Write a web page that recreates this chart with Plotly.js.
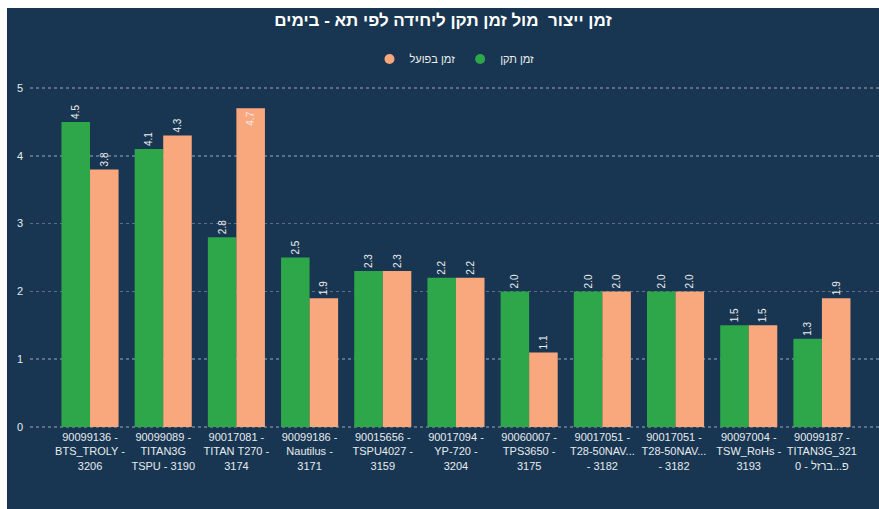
<!DOCTYPE html>
<html>
<head>
<meta charset="utf-8">
<script src="https://cdn.plot.ly/plotly-3.0.1.min.js"></script>
<style>
html,body{margin:0;padding:0;background:#ffffff;width:879px;height:509px;overflow:hidden;}
#chart{position:absolute;left:7px;top:8px;width:872px;height:501px;}
</style>
</head>
<body>
<div id="chart"></div>
<script>
const categories = [
  "90099136 -<br>BTS_TROLY -<br>3206",
  "90099089 -<br>TITAN3G<br>TSPU - 3190",
  "90017081 -<br>TITAN T270 -<br>3174",
  "90099186 -<br>Nautilus -<br>3171",
  "90015656 -<br>TSPU4027 -<br>3159",
  "90017094 -<br>YP-720 -<br>3204",
  "90060007 -<br>TPS3650 -<br>3175",
  "90017051 -<br>T28-50NAV...<br>- 3182",
  "90017051 - <br>T28-50NAV... <br>- 3182 ",
  "90097004 -<br>TSW_RoHs -<br>3193",
  "90099187 -<br>TITAN3G_321<br>\u200E0 - פ...ברזל"
];
const standardTime = [4.5, 4.1, 2.8, 2.5, 2.3, 2.2, 2.0, 2.0, 2.0, 1.5, 1.3];
const actualTime   = [3.8, 4.3, 4.7, 1.9, 2.3, 2.2, 1.1, 2.0, 2.0, 1.5, 1.9];
const standardName = "זמן תקן";
const actualName = "זמן בפועל";
const titleText = "זמן ייצור  מול זמן תקן ליחידה לפי תא - בימים";

const green = "#2ea64a";
const orange = "#f9a87e";
const bg = "#183651";
const font = "'Liberation Sans Narrow', 'Liberation Sans', Arial, sans-serif";

const idx = categories.map((c, i) => i);
const fmt = v => v.toFixed(1);

const actualPos = actualTime.map(v => v > 4.6 ? "inside" : "outside");

const traces = [
  {
    type: "bar", x: idx, y: standardTime, name: standardName,
    marker: {color: green}, showlegend: false,
    text: standardTime.map(fmt), textposition: "outside", textangle: -90,
    textfont: {color: "#eeeeee", size: 10, family: font},
    cliponaxis: false, hoverinfo: "y"
  },
  {
    type: "bar", x: idx, y: actualTime, name: actualName,
    marker: {color: orange}, showlegend: false,
    text: actualTime.map(fmt), textposition: actualPos, textangle: -90,
    insidetextanchor: "end",
    textfont: {color: "#eeeeee", size: 10, family: font},
    cliponaxis: false, hoverinfo: "y"
  },
  {
    type: "scatter", mode: "markers", x: [null], y: [null], name: standardName,
    marker: {color: green, size: 10, symbol: "circle"}, showlegend: true
  },
  {
    type: "scatter", mode: "markers", x: [null], y: [null], name: actualName,
    marker: {color: orange, size: 10, symbol: "circle"}, showlegend: true
  }
];

const layout = {
  width: 872, height: 501,
  paper_bgcolor: bg, plot_bgcolor: bg,
  margin: {l: 23, r: 0, t: 78, b: 80},
  font: {family: font, color: "#dfe5ea", size: 11},
  title: {
    text: "<b>" + titleText + "</b>",
    x: 0.5, xanchor: "center", y: 0.975, yanchor: "middle",
    font: {family: "'Liberation Sans', Arial, sans-serif", size: 17, color: "#ffffff"}
  },
  showlegend: true,
  legend: {
    orientation: "h", x: 0.5, xanchor: "center", y: 1.0 + 27/343, yanchor: "middle",
    traceorder: "reversed",
    font: {family: font, size: 11, color: "#eeeeee"},
    bgcolor: "rgba(0,0,0,0)", itemwidth: 30
  },
  barmode: "group",
  bargap: 0.22,
  bargroupgap: 0,
  xaxis: {
    range: [-0.82, 10.78],
    tickmode: "array", tickvals: idx, ticktext: categories,
    tickfont: {family: font, size: 11, color: "#e6ebef"},
    showgrid: false, zeroline: false, showline: false, ticks: "",
    fixedrange: true
  },
  yaxis: {
    range: [-0.03, 5.03],
    tickmode: "array", tickvals: [0, 1, 2, 3, 4, 5], ticktext: ["0", "1", "2", "3", "4", "5"],
    tickfont: {family: font, size: 11, color: "#e6ebef"},
    showgrid: true, gridcolor: "rgba(170,185,200,0.45)", griddash: "dot", gridwidth: 1.5,
    zeroline: false, showline: false, ticks: "", ticklabelstandoff: 6,
    fixedrange: true
  }
};

Plotly.newPlot("chart", traces, layout, {displayModeBar: false, staticPlot: true});
</script>
</body>
</html>
